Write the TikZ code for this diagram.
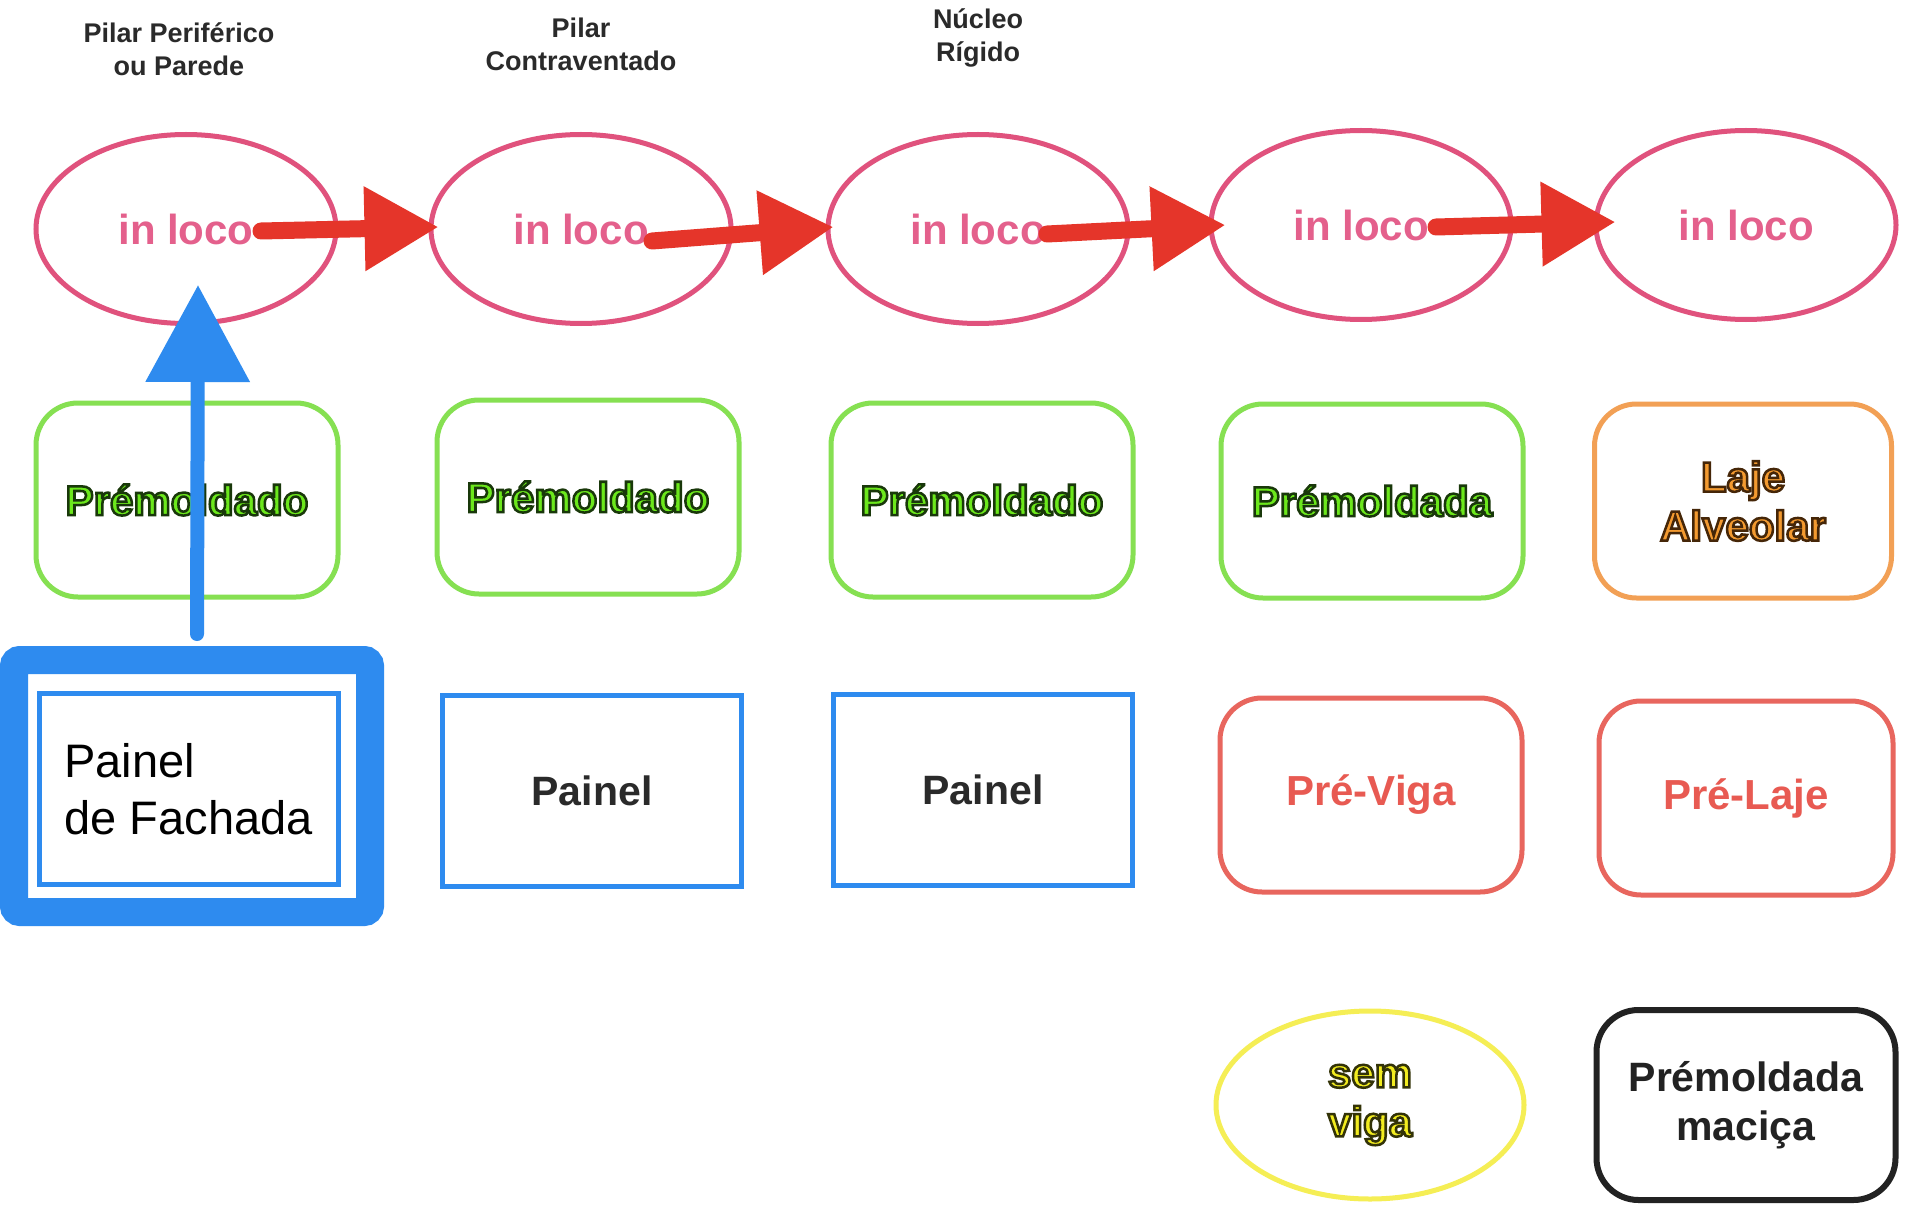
\documentclass[tikz,border=0pt]{standalone}
\usepackage{fontspec}
\setmainfont{Liberation Sans}
\usetikzlibrary{shapes.geometric,arrows.meta,calc}
\definecolor{pinkline}{HTML}{E0527D}
\definecolor{pinktext}{HTML}{E4608C}
\definecolor{redarr}{HTML}{E5352A}
\definecolor{bluec}{HTML}{2E8BEF}
\definecolor{greenline}{HTML}{86E052}
\definecolor{greentext}{HTML}{6CE81C}
\definecolor{orangeline}{HTML}{F2A055}
\definecolor{orangetext}{HTML}{F39A30}
\definecolor{redline}{HTML}{E8665E}
\definecolor{redtext}{HTML}{E85A52}
\definecolor{yellowline}{HTML}{F5EE55}
\definecolor{yellowtext}{HTML}{F2EC20}
\definecolor{darkc}{HTML}{222222}
\definecolor{hdrc}{HTML}{2A2A2A}
\font\outlfnt="Liberation Sans Bold:embolden=6" at 42pt
% #1 = stroke rgb numbers, #2 = fill colour, #3 = text
\newcommand\outl[3]{{\color{#2}\special{pdf:code #1 RG}\outlfnt #3}}
\begin{document}
\begin{tikzpicture}[x=1pt,y=-1pt,
  hdr/.style={font=\bfseries\fontsize{27}{33}\selectfont, text=hdrc, align=center},
  inloco/.style={ellipse, draw=pinkline, line width=5pt, minimum width=300pt, minimum height=189pt, inner sep=0pt, text=pinktext, font=\bfseries\fontsize{42}{50}\selectfont},
  rbox/.style={rectangle, rounded corners=42pt, line width=5pt, minimum width=302pt, minimum height=194pt, align=center, inner sep=0pt, font=\bfseries\fontsize{42}{51}\selectfont},
  greenbox/.style={rbox, draw=greenline},
  orangebox/.style={rbox, draw=orangeline},
  redbox/.style={rbox, draw=redline, text=redtext},
  blackbox/.style={rbox, draw=darkc, line width=6pt, text=darkc, font=\bfseries\fontsize{41}{49}\selectfont},
  pbox/.style={rectangle, draw=bluec, line width=5pt, minimum width=299pt, minimum height=191pt, inner sep=0pt, font=\bfseries\fontsize{41}{50}\selectfont, text=hdrc},
  yell/.style={ellipse, draw=yellowline, line width=5pt, minimum width=308pt, minimum height=188pt, inner sep=0pt, align=center, font=\bfseries\fontsize{42}{49}\selectfont},
  redarrow/.style={draw=redarr, line width=17pt, line cap=round, -{Triangle[length=74pt,width=80pt]}},
  bluearrow/.style={draw=bluec, line width=14pt, line cap=round, -{Triangle[length=97pt,width=101pt]}}
]
\useasboundingbox (0,0) rectangle (1905,1206);
\fill[white] (0,0) rectangle (1905,1206);

% headers
\node[hdr] (h1) at (179,49) {Pilar Periférico\\ou Parede};
\node[hdr] (h2) at (581,44) {Pilar\\Contraventado};
\node[hdr] (h3) at (978,38) {Núcleo\\Rígido};

% row 1
\node[inloco] (e1) at (186,229) {in loco};
\node[inloco] (e2) at (581,229) {in loco};
\node[inloco] (e3) at (978,229) {in loco};
\node[inloco] (e4) at (1361,225) {in loco};
\node[inloco] (e5) at (1746,225) {in loco};

% row 2
\node[greenbox] (b1) at (187,500) {\outl{0.1 0.22 0.04}{greentext}{Prémoldado}};
\node[greenbox] (b2) at (588,497) {\outl{0.1 0.22 0.04}{greentext}{Prémoldado}};
\node[greenbox] (b3) at (982,500) {\outl{0.1 0.22 0.04}{greentext}{Prémoldado}};
\node[greenbox] (b4) at (1372,501) {\outl{0.1 0.22 0.04}{greentext}{Prémoldada}};
\node[orangebox, minimum width=297pt] (b5) at (1743,501) {\outl{0.27 0.15 0.03}{orangetext}{Laje}\\[-2pt]\outl{0.27 0.15 0.03}{orangetext}{Alveolar}};

% row 3
\node[rectangle, draw=bluec, line width=28pt, rounded corners=6pt, minimum width=356pt, minimum height=252pt] (frame) at (192,786) {};
\node[pbox, font=\fontsize{47}{57}\selectfont, text=black, align=left] (pf) at (188.5,789) {Painel\\de Fachada};
\node[pbox] (p2) at (592,791) {Painel};
\node[pbox] (p3) at (983,790) {Painel};
\node[redbox] (pv) at (1371,795) {Pré-Viga};
\node[redbox, minimum width=294pt] (pl) at (1746,798) {Pré-Laje};

% row 4
\node[yell] (sv) at (1370,1105) {\outl{0.2 0.2 0.03}{yellowtext}{sem}\\\outl{0.2 0.2 0.03}{yellowtext}{viga}};
\node[blackbox, minimum width=299pt, minimum height=190pt] (pm) at (1746,1105) {Prémoldada\\maciça};

% arrows
\draw[redarrow] ($(e1.center)+(75,2)$) -- ($(e2.west)+(10,-2)$);
\draw[redarrow] ($(e2.center)+(71,12)$) -- ($(e3.west)+(8,-2)$);
\draw[redarrow] ($(e3.center)+(69,5)$) -- ($(e4.west)+(17,0)$);
\draw[redarrow] ($(e4.center)+(75,2)$) -- ($(e5.west)+(22,-3)$);
\draw[bluearrow] ($(frame.north)+(5,-12)$) -- ($(e1.south)+(12,-41)$);
\end{tikzpicture}
\end{document}
